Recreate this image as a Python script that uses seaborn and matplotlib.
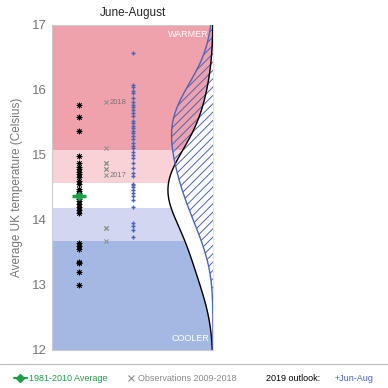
import numpy as np
import matplotlib
matplotlib.use("Agg")
import matplotlib.pyplot as plt
from matplotlib.lines import Line2D
import seaborn as sns

# 1981-2010 observed summer means (black asterisks)
clim_obs = [15.77, 15.59, 15.37, 14.99, 14.88, 14.82, 14.78, 14.74, 14.70, 14.66,
            14.60, 14.55, 14.48, 14.45, 14.42, 14.40, 14.35, 14.32, 14.29, 14.25,
            14.20, 14.15, 14.10, 13.64, 13.60, 13.56, 13.36, 13.33, 13.20, 13.00]
clim_avg = 14.37

# observations 2009-2018
obs_years = [2009, 2010, 2011, 2012, 2013, 2014, 2015, 2016, 2017, 2018]
obs_vals = [14.78, 14.88, 13.88, 13.68, 15.10, 14.88, 13.88, 14.78, 14.69, 15.81]
labelled_years = [2017, 2018]

# 2019 outlook ensemble (blue crosses)
outlook = [16.56, 16.08, 16.04, 15.98, 15.95, 15.87, 15.82, 15.77, 15.74, 15.69,
           15.64, 15.60, 15.52, 15.49, 15.45, 15.41, 15.37, 15.33, 15.29, 15.24,
           15.18, 15.14, 15.10, 15.05, 15.00, 14.95, 14.87, 14.80, 14.72, 14.67,
           14.56, 14.53, 14.50, 14.46, 14.41, 14.37, 14.31, 14.20, 13.95, 13.90,
           13.85, 13.73]

# background bands
band_edges = [12, 13.68, 14.18, 14.57, 15.07, 17]
band_colors = ["#a3b8e3", "#d2d6f1", "#ffffff", "#f8d2d6", "#efa1ac"]

blue = "#4a64b8"
green = "#1e9e4a"
grey = "#8a8a8a"

sns.set_style("white")
plt.rcParams["font.family"] = ["Liberation Sans", "DejaVu Sans"]
plt.rcParams["hatch.linewidth"] = 0.7

fig = plt.figure(figsize=(3.88, 3.88), dpi=100)
ax = fig.add_axes([0.134, 0.098, 0.415, 0.838])

for lo, hi, c in zip(band_edges[:-1], band_edges[1:], band_colors):
    ax.axhspan(lo, hi, color=c, lw=0, zorder=0)

sns.scatterplot(x=[1] * len(clim_obs), y=clim_obs, marker=(8, 2, 0), color="k",
                s=13, linewidth=0.6, ax=ax, zorder=3)
ax.plot([1], [clim_avg], marker="_", ms=10, mew=2.5, color=green, zorder=4)
ax.plot([1], [clim_avg], marker="D", ms=4, color=green, zorder=4)

sns.scatterplot(x=[2] * len(obs_vals), y=obs_vals, marker="x", color=grey,
                s=9, linewidth=0.7, ax=ax, zorder=3)
for yr, v in zip(obs_years, obs_vals):
    if yr in labelled_years:
        ax.text(2.15, v, str(yr), fontsize=5.5, color="#777777", va="center")

sns.scatterplot(x=[3] * len(outlook), y=outlook, marker="+", color=blue,
                s=11, linewidth=1.0, ax=ax, zorder=3)

ax.set_xlim(0, 6)
ax.set_ylim(12, 17)
ax.set_xticks([])
ax.set_yticks([12, 13, 14, 15, 16, 17])
ax.tick_params(axis="y", length=0, labelsize=9.5, labelcolor="#777777", pad=4)
ax.set_ylabel("Average UK temperature (Celsius)", fontsize=8.5, color="#777777", labelpad=6)
ax.set_title("June-August", fontsize=8.5, pad=6)
for s in ax.spines.values():
    s.set_color("#cccccc")
    s.set_linewidth(0.8)

ax.text(5.85, 16.85, "WARMER", color="white", fontsize=6.5, ha="right", va="center")
ax.text(5.85, 12.17, "COOLER", color="white", fontsize=6.5, ha="right", va="center")

# distributions drawn leftwards from the right edge
ax2 = ax.twiny()
sns.kdeplot(y=clim_obs, ax=ax2, color="k", bw_adjust=1.5, cut=8, clip=(12, 17), lw=1.0)
d_clim, y_clim = ax2.lines[-1].get_data()
ax2.fill_betweenx(y_clim, 0, d_clim, color="white", lw=0, zorder=1)
ax2.lines[-1].set_zorder(3)
sns.kdeplot(y=outlook, ax=ax2, color=blue, bw_adjust=1.4, cut=8, clip=(12, 17), lw=1.0)
d_out, y_out = ax2.lines[-1].get_data()
ax2.fill_betweenx(y_out, 0, d_out, facecolor="none", edgecolor=blue, hatch="////",
                  lw=0, zorder=2)
ax2.lines[-1].set_zorder(4)
peak = max(d_clim.max(), d_out.max())
ax2.set_xlim(peak / 0.28, 0)
ax2.set_ylim(12, 17)
ax2.set_xticks([])
ax2.set_xlabel("")
ax2.set_ylabel("")
for s in ax2.spines.values():
    s.set_visible(False)

# bottom key
fig.add_artist(Line2D([0, 1], [0.062, 0.062], color="#bbbbbb", lw=0.8, transform=fig.transFigure))
fig.add_artist(Line2D([0.035, 0.07], [0.025, 0.025], color=green, lw=1.5, transform=fig.transFigure))
fig.add_artist(Line2D([0.052], [0.025], marker="D", ms=4, color=green, transform=fig.transFigure))
fig.text(0.076, 0.025, "1981-2010 Average", color=green, fontsize=6.5, va="center")
fig.add_artist(Line2D([0.337], [0.025], marker="x", ms=4, mew=0.8, color=grey, transform=fig.transFigure))
fig.text(0.355, 0.025, "Observations 2009-2018", color=grey, fontsize=6.5, va="center")
fig.text(0.686, 0.025, "2019 outlook:", color="black", fontsize=6.5, va="center")
fig.text(0.862, 0.025, "+Jun-Aug", color=blue, fontsize=6.5, va="center")

fig.savefig("out.png", dpi=100)
